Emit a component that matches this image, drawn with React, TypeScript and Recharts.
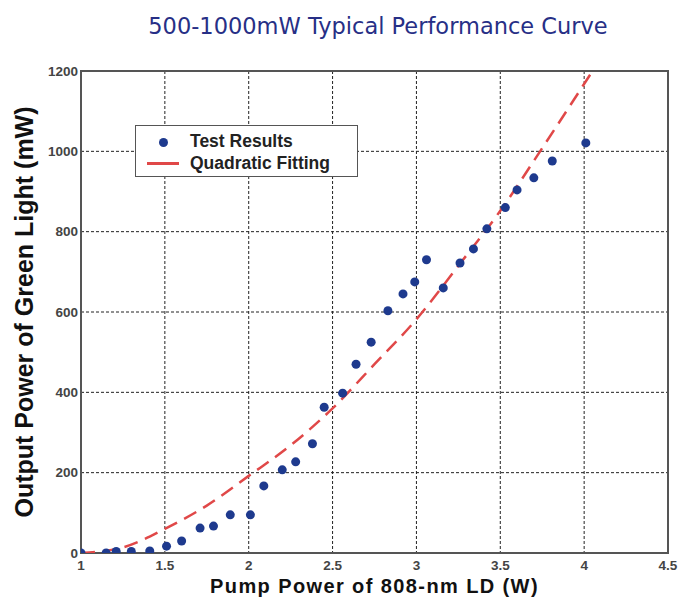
import React from 'react';
import {
  ComposedChart, Scatter, Line, XAxis, YAxis, CartesianGrid, Legend, ReferenceArea
} from 'recharts';

// measured points (pump power W, green output mW)
const testPump = [1.0, 1.15, 1.21, 1.3, 1.41, 1.51, 1.6, 1.71, 1.79, 1.89, 2.01, 2.09, 2.2, 2.28, 2.38, 2.45, 2.56, 2.64, 2.73, 2.83, 2.92, 2.99, 3.06, 3.16, 3.26, 3.34, 3.42, 3.53, 3.6, 3.7, 3.81, 4.01];
const testPower = [0, 0, 4, 4, 5, 17, 30, 62, 67, 95, 95, 167, 207, 227, 272, 363, 398, 470, 525, 603, 645, 675, 730, 660, 722, 757, 807, 860, 904, 934, 976, 1021];

// fitted curve
const fitPump = [1.0, 1.25, 1.5, 1.75, 2.0, 2.25, 2.5, 2.75, 3.0, 3.25, 3.5, 3.75, 4.05];
const fitPower = [0, 14, 60, 118, 192, 268, 360, 470, 582, 715, 852, 1008, 1200];

const xTicks = [1, 1.5, 2, 2.5, 3, 3.5, 4, 4.5];
const yTicks = [0, 200, 400, 600, 800, 1000, 1200];

const TITLE = '500-1000mW Typical Performance Curve';
const SERIES_TEST = 'Test Results';
const SERIES_FIT = 'Quadratic Fitting';

const testData = testPump.map((x, i) => ({ x, y: testPower[i] }));
const fitData = fitPump.map((x, i) => ({ x, y: fitPower[i] }));

const DOT = '#1e3a8e';
const RED = '#e04848';
const FONT = 'Liberation Sans, Arial, sans-serif';
const tickStyle = { fill: '#444', fontSize: 13.5, fontWeight: 'bold' as const, fontFamily: FONT };

const LegendBox = () => (
  <div style={{
    width: 221, height: 50, border: '1.5px solid #555', background: '#fff',
    fontFamily: FONT, fontWeight: 'bold', fontSize: 17.5, color: '#222',
    boxSizing: 'content-box', position: 'relative'
  }}>
    <div style={{ position: 'absolute', left: 0, top: 5, height: 20, display: 'flex', alignItems: 'center' }}>
      <span style={{ display: 'inline-block', width: 54, textAlign: 'center' }}>
        <span style={{ display: 'inline-block', width: 9, height: 9, borderRadius: 5, background: DOT }} />
      </span>
      <span>{SERIES_TEST}</span>
    </div>
    <div style={{ position: 'absolute', left: 0, top: 27, height: 20, display: 'flex', alignItems: 'center' }}>
      <span style={{ display: 'inline-block', width: 54, textAlign: 'center' }}>
        <span style={{ display: 'inline-block', width: 32, height: 3, background: RED, verticalAlign: 'middle' }} />
      </span>
      <span>{SERIES_FIT}</span>
    </div>
  </div>
);

export default function App() {
  return (
    <div style={{ position: 'absolute', left: 0, top: 0, width: 685, height: 601, background: '#fff' }}>
      <div style={{
        position: 'absolute', left: 71, top: 15, width: 614, textAlign: 'center',
        fontFamily: 'DejaVu Sans, Verdana, sans-serif', fontSize: 22.5, lineHeight: '22px', color: '#272f86'
      }}>
        {TITLE}
      </div>
      <ComposedChart width={685} height={601} margin={{ top: 71, right: 17, bottom: 0, left: 0 }}>
        <CartesianGrid stroke="#222" strokeDasharray="3 2" horizontalValues={yTicks} verticalValues={xTicks} />
        <XAxis
          type="number"
          dataKey="x"
          domain={[1, 4.5]}
          ticks={xTicks}
          height={48}
          axisLine={false}
          tickLine={false}
          tickSize={0}
          tickMargin={7}
          tick={tickStyle}
          allowDataOverflow
          label={{ value: 'Pump Power of 808-nm LD (W)', position: 'insideBottom', offset: 8, fill: '#111', fontSize: 20, fontWeight: 'bold', fontFamily: FONT, style: { letterSpacing: '1.4px' } }}
        />
        <YAxis
          type="number"
          dataKey="y"
          domain={[0, 1200]}
          ticks={yTicks}
          width={81}
          axisLine={false}
          tickLine={false}
          tickSize={0}
          tickMargin={3}
          tick={tickStyle}
          allowDataOverflow
          label={{ value: 'Output Power of Green Light (mW)', angle: -90, position: 'insideLeft', offset: 24, fill: '#111', fontSize: 25, fontWeight: 'bold', fontFamily: FONT, style: { textAnchor: 'middle' } }}
        />
        <ReferenceArea x1={1} x2={4.5} y1={0} y2={1200} fill="none" stroke="#555" strokeWidth={2} ifOverflow="visible" />
        <Line
          data={fitData}
          dataKey="y"
          name={SERIES_FIT}
          type="monotone"
          stroke={RED}
          strokeWidth={2.5}
          strokeDasharray="14 8"
          dot={false}
          isAnimationActive={false}
        />
        <Scatter
          data={testData}
          dataKey="y"
          name={SERIES_TEST}
          fill={DOT}
          shape={(p: any) => <circle cx={p.cx} cy={p.cy} r={4.5} fill={DOT} />}
          isAnimationActive={false}
        />
        <Legend
          layout="vertical"
          align="center"
          verticalAlign="middle"
          content={() => <LegendBox />}
          wrapperStyle={{ left: 135, top: 125, width: 224, height: 53 }}
        />
      </ComposedChart>
    </div>
  );
}
